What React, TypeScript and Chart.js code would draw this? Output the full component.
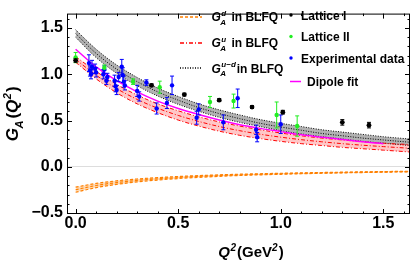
import React, { useEffect, useRef } from 'react';
import { Chart, registerables } from 'chart.js';

Chart.register(...registerables);

const FONT = "'Liberation Sans', Arial, Helvetica, sans-serif";

// Q^2 grid for BLFQ bands
const qGrid = [0, 0.1, 0.2, 0.3, 0.4, 0.5, 0.6, 0.7, 0.8, 0.9, 1.0, 1.1, 1.2, 1.3, 1.4, 1.5, 1.63];
// G_A^{u-d}
const udUpper = [1.48, 1.27, 1.10, 0.965, 0.85, 0.76, 0.68, 0.615, 0.56, 0.51, 0.47, 0.435, 0.40, 0.375, 0.35, 0.325, 0.30];
const udMid = [1.44, 1.225, 1.055, 0.92, 0.81, 0.72, 0.64, 0.575, 0.52, 0.47, 0.43, 0.395, 0.36, 0.335, 0.31, 0.29, 0.265];
const udLower = [1.40, 1.18, 1.01, 0.875, 0.765, 0.675, 0.60, 0.535, 0.48, 0.435, 0.39, 0.355, 0.325, 0.30, 0.275, 0.255, 0.23];
// G_A^u
const uUpper = [1.19, 1.03, 0.89, 0.775, 0.68, 0.605, 0.54, 0.485, 0.44, 0.40, 0.365, 0.335, 0.31, 0.29, 0.27, 0.255, 0.24];
const uMid = [1.16, 0.99, 0.845, 0.728, 0.633, 0.555, 0.49, 0.435, 0.39, 0.352, 0.32, 0.293, 0.27, 0.25, 0.233, 0.218, 0.20];
const uLower = [1.13, 0.95, 0.80, 0.68, 0.585, 0.505, 0.44, 0.385, 0.34, 0.305, 0.275, 0.25, 0.23, 0.21, 0.195, 0.18, 0.16];
// G_A^d
const dUpper = [-0.22, -0.18, -0.152, -0.132, -0.117, -0.105, -0.095, -0.087, -0.08, -0.075, -0.07, -0.066, -0.062, -0.058, -0.055, -0.052, -0.048];
const dMid = [-0.248, -0.202, -0.171, -0.147, -0.130, -0.116, -0.104, -0.095, -0.087, -0.081, -0.075, -0.070, -0.066, -0.062, -0.058, -0.055, -0.051];
const dLower = [-0.275, -0.225, -0.19, -0.163, -0.143, -0.127, -0.114, -0.103, -0.094, -0.087, -0.081, -0.075, -0.070, -0.066, -0.062, -0.058, -0.054];

// Dipole fit
const dipQ = [0, 0.1, 0.2, 0.3, 0.4, 0.5, 0.6, 0.7, 0.8, 0.9, 1.0, 1.1, 1.2, 1.3, 1.4, 1.5];
const dipV = [1.27, 1.08, 0.93, 0.81, 0.71, 0.63, 0.565, 0.505, 0.455, 0.415, 0.38, 0.345, 0.32, 0.295, 0.27, 0.25];

// Lattice I
const latIQ = [0.0, 0.37, 0.53, 0.70, 0.86, 1.01, 1.30, 1.43];
const latIV = [1.15, 0.88, 0.78, 0.72, 0.645, 0.59, 0.48, 0.45];
const latIE = [0.02, 0.015, 0.015, 0.015, 0.015, 0.02, 0.03, 0.03];

// Lattice II
const latIIQ = [0.0, 0.14, 0.28, 0.41, 0.655, 0.77, 0.98, 1.08];
const latIIV = [1.18, 1.07, 0.92, 0.86, 0.70, 0.71, 0.56, 0.44];
const latIIE = [0.055, 0.03, 0.03, 0.065, 0.06, 0.075, 0.14, 0.11];

// Experimental data
const expQ = [0.065, 0.07, 0.075, 0.08, 0.095, 0.10, 0.135, 0.14, 0.15, 0.155, 0.19, 0.195, 0.20, 0.21, 0.225, 0.23, 0.235, 0.24, 0.30, 0.31, 0.345, 0.395, 0.445, 0.47, 0.59, 0.60, 0.72, 0.79, 0.88, 0.885, 1.0];
const expV = [1.12, 1.04, 1.00, 1.08, 1.06, 1.02, 1.00, 1.05, 0.93, 0.97, 0.93, 0.87, 0.83, 0.97, 1.08, 0.99, 0.92, 0.88, 0.82, 0.76, 0.91, 0.63, 0.69, 0.88, 0.53, 0.62, 0.48, 0.74, 0.40, 0.32, 0.46];
const expE = [0.09, 0.06, 0.05, 0.07, 0.05, 0.05, 0.05, 0.04, 0.04, 0.04, 0.06, 0.06, 0.05, 0.05, 0.08, 0.08, 0.06, 0.05, 0.06, 0.05, 0.03, 0.06, 0.06, 0.10, 0.07, 0.06, 0.08, 0.10, 0.05, 0.05, 0.10];

// Tick labels
const xTicks = [0, 0.5, 1.0, 1.5];
const yTicks = [-0.5, 0, 0.5, 1.0, 1.5];

const ORANGE = '#ff8000';
const RED = '#ff0000';
const MAGENTA = '#ff00ff';
const GREEN = '#22ee22';
const BLUE = '#0000ff';

function pts(qs: number[], vs: number[]) {
  return qs.map((q, i) => ({ x: q, y: vs[i] }));
}
function errData(qs: number[], vs: number[], es: number[]) {
  const out: any[] = [];
  qs.forEach((q, i) => {
    out.push({ x: q, y: vs[i] - es[i] }, { x: q, y: vs[i] + es[i] }, { x: q, y: null });
  });
  return out;
}
function curve(ys: number[], color: string, dash: number[], order: number, fill: any = false, bg = 'transparent', width = 1) {
  return {
    type: 'line',
    data: pts(qGrid, ys),
    borderColor: color,
    borderWidth: width,
    borderDash: dash,
    pointRadius: 0,
    fill,
    backgroundColor: bg,
    cubicInterpolationMode: 'monotone',
    order,
  };
}
function errSet(qs: number[], vs: number[], es: number[], color: string) {
  return {
    type: 'line',
    data: errData(qs, vs, es),
    borderColor: color,
    borderWidth: 1,
    spanGaps: false,
    pointStyle: 'line',
    pointRadius: 2,
    pointBorderWidth: 1,
    pointBorderColor: color,
    pointBackgroundColor: color,
    fill: false,
    order: 2,
  };
}
function ptSet(qs: number[], vs: number[], color: string, r: number) {
  return {
    type: 'line',
    data: pts(qs, vs),
    showLine: false,
    pointStyle: 'circle',
    pointRadius: r,
    pointBorderWidth: 0,
    pointBackgroundColor: color,
    borderColor: color,
    fill: false,
    order: 1,
  };
}

type Part = { t?: string; sup?: string; sub?: string };
function drawRich(ctx: CanvasRenderingContext2D, x: number, y: number, parts: Part[], size: number, measureOnly = false) {
  const big = `bold ${size}px ${FONT}`;
  const bigI = `italic bold ${size}px ${FONT}`;
  const small = `italic bold ${Math.round(size * 0.66)}px ${FONT}`;
  let cx = x;
  for (const p of parts) {
    if (p.t !== undefined) {
      const italic = p.t === 'G' || p.t === 'Q';
      ctx.font = italic ? bigI : big;
      if (!measureOnly) ctx.fillText(p.t, cx, y);
      cx += ctx.measureText(p.t).width + (italic ? 0.5 : 0);
    } else {
      ctx.font = small;
      let w = 0;
      if (p.sup) {
        if (!measureOnly) ctx.fillText(p.sup, cx, y - size * 0.42);
        w = Math.max(w, ctx.measureText(p.sup).width);
      }
      if (p.sub) {
        if (!measureOnly) ctx.fillText(p.sub, cx - 1, y + size * 0.3);
        w = Math.max(w, ctx.measureText(p.sub).width);
      }
      cx += w + 1;
    }
  }
  return cx - x;
}

const decorPlugin = {
  id: 'decor',
  afterDraw(chart: any) {
    const { ctx, chartArea: a } = chart;
    const xs = chart.scales.x;
    const ys = chart.scales.y;
    ctx.save();
    ctx.globalAlpha = 1;
    // frame
    ctx.strokeStyle = '#000';
    ctx.lineWidth = 1;
    ctx.setLineDash([]);
    ctx.strokeRect(a.left + 0.5, a.top + 0.5, a.right - a.left - 1, a.bottom - a.top - 1);
    // ticks (inward, all four sides)
    ctx.beginPath();
    for (let k = 0; k <= 16; k++) {
      const v = k / 10;
      const major = k % 5 === 0;
      const len = major ? 5 : 2.5;
      const px = Math.round(xs.getPixelForValue(v)) + 0.5;
      ctx.moveTo(px, a.bottom);
      ctx.lineTo(px, a.bottom - len);
      ctx.moveTo(px, a.top);
      ctx.lineTo(px, a.top + len);
    }
    for (let k = -5; k <= 16; k++) {
      const v = k / 10;
      const major = k % 5 === 0;
      const len = major ? 5 : 2.5;
      const py = Math.round(ys.getPixelForValue(v)) + 0.5;
      ctx.moveTo(a.left, py);
      ctx.lineTo(a.left + len, py);
      ctx.moveTo(a.right, py);
      ctx.lineTo(a.right - len, py);
    }
    ctx.stroke();

    ctx.fillStyle = '#000';
    ctx.textBaseline = 'alphabetic';
    ctx.textAlign = 'left';

    // x-axis title
    const xt: Part[] = [{ t: 'Q' }, { sup: '2' }, { t: '(GeV' }, { sup: '2' }, { t: ')' }];
    const xw = drawRich(ctx, 0, 0, xt, 15, true);
    drawRich(ctx, 251 - xw / 2, 257, xt, 15);

    // y-axis title
    const yt: Part[] = [{ t: 'G' }, { sub: 'A' }, { t: '(' }, { t: 'Q' }, { sup: '2' }, { t: ')' }];
    ctx.save();
    ctx.translate(18, (a.top + a.bottom) / 2);
    ctx.rotate(-Math.PI / 2);
    const yw = drawRich(ctx, 0, 0, yt, 17, true);
    drawRich(ctx, -yw / 2, 0, yt, 17);
    ctx.restore();

    // legend, left column
    const leftRows = [
      { y: 16.5, color: ORANGE, dash: [3, 2], sup: 'd' },
      { y: 42.5, color: RED, dash: [4, 2, 1, 2], sup: 'u' },
      { y: 68, color: '#000', dash: [1, 1.5], sup: 'u\u2212d' },
    ];
    for (const r of leftRows) {
      ctx.save();
      ctx.strokeStyle = r.color;
      ctx.lineWidth = 1.4;
      ctx.setLineDash(r.dash);
      ctx.beginPath();
      ctx.moveTo(180, Math.round(r.y));
      ctx.lineTo(202, Math.round(r.y));
      ctx.stroke();
      ctx.restore();
      ctx.fillStyle = '#000';
      drawRich(ctx, 211.5, r.y + 4.5, [{ t: 'G' }, { sup: r.sup, sub: 'A' }, { t: r.sup.length > 1 ? 'in BLFQ' : ' in BLFQ' }], 12);
    }
    // legend, right column
    const rightRows = [
      { y: 15, color: '#000', label: 'Lattice I' },
      { y: 36.5, color: GREEN, label: 'Lattice II' },
      { y: 58, color: BLUE, label: 'Experimental data' },
    ];
    for (const r of rightRows) {
      ctx.fillStyle = r.color;
      ctx.beginPath();
      ctx.arc(291, r.y, 1.7, 0, Math.PI * 2);
      ctx.fill();
      ctx.fillStyle = '#000';
      ctx.font = `bold 12px ${FONT}`;
      ctx.fillText(r.label, 301, r.y + 4.5);
    }
    ctx.strokeStyle = MAGENTA;
    ctx.lineWidth = 1.5;
    ctx.beginPath();
    ctx.moveTo(290, 81.5);
    ctx.lineTo(301, 81.5);
    ctx.stroke();
    ctx.fillStyle = '#000';
    ctx.font = `bold 12px ${FONT}`;
    ctx.fillText('Dipole fit', 307, 86);
    ctx.restore();
  },
};

export default function App() {
  const ref = useRef<HTMLCanvasElement>(null);
  useEffect(() => {
    document.body.style.margin = '0';
    const tickFont = { family: FONT, size: 16, weight: 'bold' as const };
    const datasets: any[] = [
      curve(udUpper, '#000', [1, 1.5], 10, false, 'transparent'),
      curve(udLower, '#000', [1, 1.5], 10, '-1', 'rgba(0,0,0,0.3)'),
      curve(udMid, '#000', [1, 1.5], 10),
      curve(uUpper, RED, [4, 2, 1, 2], 9),
      curve(uLower, RED, [4, 2, 1, 2], 9, '-1', 'rgba(255,0,0,0.22)'),
      curve(uMid, RED, [4, 2, 1, 2], 9),
      curve(dUpper, ORANGE, [3, 2], 8, false, 'transparent', 1.2),
      curve(dLower, ORANGE, [3, 2], 8, '-1', 'rgba(255,128,0,0.3)', 1.2),
      curve(dMid, ORANGE, [3, 2], 8, false, 'transparent', 1.2),
      {
        type: 'line',
        data: pts(dipQ, dipV),
        borderColor: MAGENTA,
        borderWidth: 1.5,
        pointRadius: 0,
        fill: false,
        cubicInterpolationMode: 'monotone',
        order: 3,
      },
      errSet(latIQ, latIV, latIE, '#000'),
      errSet(latIIQ, latIIV, latIIE, GREEN),
      errSet(expQ, expV, expE, BLUE),
      ptSet(latIQ, latIV, '#000', 2.4),
      ptSet(latIIQ, latIIV, GREEN, 2.2),
      ptSet(expQ, expV, BLUE, 2.2),
    ];
    const chart = new Chart(ref.current as HTMLCanvasElement, {
      type: 'line',
      data: { datasets },
      options: {
        animation: false,
        responsive: true,
        maintainAspectRatio: false,
        layout: { padding: { top: 1, right: 3, left: 0, bottom: 0 } },
        plugins: { legend: { display: false }, tooltip: { enabled: false } },
        scales: {
          x: {
            type: 'linear',
            min: -0.042,
            max: 1.63,
            afterFit: (s: any) => { s.height = 53; },
            afterBuildTicks: (s: any) => { s.ticks = xTicks.map((v) => ({ value: v })); },
            grid: { display: false, drawTicks: false },
            border: { display: false },
            ticks: {
              font: tickFont,
              color: '#000',
              padding: 0,
              maxRotation: 0,
              autoSkip: false,
              callback: (v: any) => Number(v).toFixed(1),
            },
          },
          y: {
            type: 'linear',
            min: -0.51,
            max: 1.655,
            afterFit: (s: any) => { s.width = 67; },
            afterBuildTicks: (s: any) => { s.ticks = yTicks.map((v) => ({ value: v })); },
            grid: {
              drawTicks: false,
              color: (c: any) => (c.tick && c.tick.value === 0 ? '#dddddd' : 'rgba(0,0,0,0)'),
              lineWidth: 1,
            },
            border: { display: false },
            ticks: {
              font: tickFont,
              color: '#000',
              padding: 4,
              autoSkip: false,
              callback: (v: any) => {
                const n = Number(v);
                return n < 0 ? '\u2212' + Math.abs(n).toFixed(1) : n.toFixed(1);
              },
            },
          },
        },
      } as any,
      plugins: [decorPlugin],
    } as any);
    return () => chart.destroy();
  }, []);
  return (
    <div style={{ width: 415, height: 267, position: 'relative' }}>
      <canvas ref={ref} />
    </div>
  );
}
